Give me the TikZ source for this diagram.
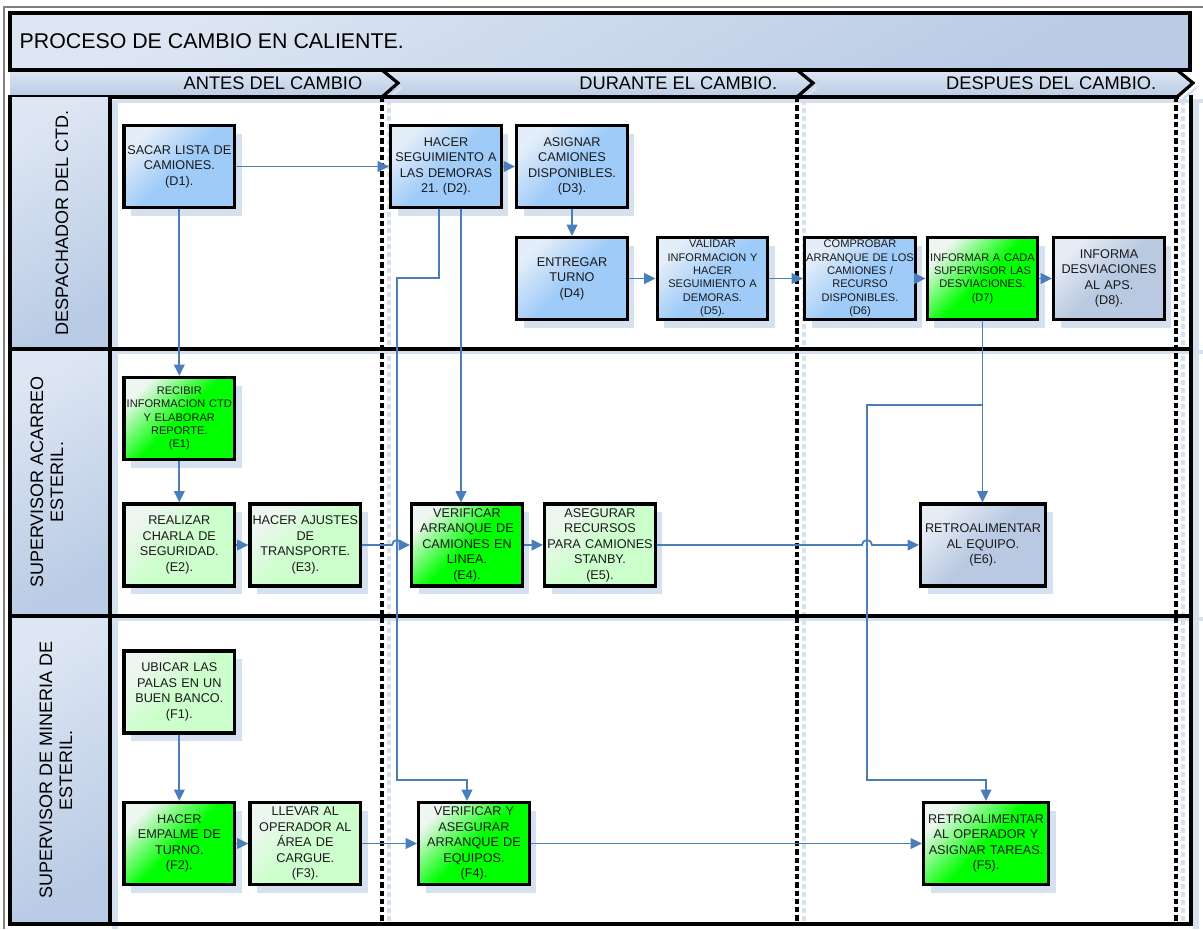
\documentclass[tikz,border=0pt]{standalone}
\usepackage{fontspec}
\setmainfont{Liberation Sans}
\usetikzlibrary{arrows.meta,shadows,calc}
\frenchspacing

\definecolor{flecha}{HTML}{4A7EBB}
\definecolor{azulcaja}{HTML}{9FCBF9}
\definecolor{azulclaro}{HTML}{E4EEF9}
\definecolor{verde}{HTML}{00FF00}
\definecolor{verdeclaro}{HTML}{CCFFCC}
\definecolor{verdeluz}{HTML}{EEF6F0}
\definecolor{grisazul}{HTML}{B9C9E1}
\definecolor{grisluz}{HTML}{E6ECF5}
\definecolor{sombra}{HTML}{D6E1F0}
\definecolor{encab}{HTML}{B9CBE5}
\definecolor{encabclaro}{HTML}{DDE6F3}

\begin{document}
\begin{tikzpicture}[x=0.75pt, y=-0.75pt,
  caja/.style={draw=black, line width=2.4pt, minimum width=83pt, minimum height=61.5pt,
    text width=81pt, align=center, inner sep=1pt, text=black!90, font=\fontsize{9.5}{11.6}\selectfont,
    drop shadow={shadow xshift=5.25pt, shadow yshift=-6pt, fill=sombra, opacity=1}},
  ancha/.style={minimum width=93.75pt, text width=91pt},
  chica/.style={font=\fontsize{8.3}{10}\selectfont},
  azul/.style={caja, top color=azulclaro, bottom color=azulcaja, middle color=azulcaja, shading angle=45},
  verdefuerte/.style={caja, top color=verdeluz, bottom color=verde, middle color=verde, shading angle=45},
  verdesuave/.style={caja, top color=verdeluz, bottom color=verdeclaro, middle color=verdeclaro, shading angle=45},
  gris/.style={caja, top color=grisluz, bottom color=grisazul, middle color=grisazul, shading angle=45},
  flechas/.style={draw=flecha, line width=1.35pt, -{Triangle[length=8.5pt,width=8pt]}},
  borde/.style={line width=2.4pt, line cap=rect},
  punteado/.style={line width=2.6pt, dash pattern=on 4pt off 2.2pt},
  guia/.style={draw=sombra, line width=2.4pt, dash pattern=on 4pt off 2pt},
  carril/.style={rotate=90, align=center, font=\fontsize{13.5}{15}\selectfont},
  fase/.style={anchor=east, font=\fontsize{13.7}{16}\selectfont}]

  \useasboundingbox (0,0) rectangle (1203,929);
  \fill[white] (0,0) rectangle (1203,929);
  \draw[gray, line width=0.8pt] (4,929) -- (4,7) -- (1203,7);

  % encabezado
  \shade[top color=encabclaro, bottom color=encab, shading angle=30] (10,13) rectangle (1190,70);
  \shade[top color=encabclaro, bottom color=encab] (10,70) -- (1177,70) -- (1194,83) -- (1177,97) -- (10,97) -- cycle;
  \foreach \c in {382,797,1177}
    \draw[sombra, line width=2pt] (\c+6,99) -- (\c+20,87);
  \draw[sombra, line width=3pt] (118,101) -- (1203,101);
  \draw[borde] (10,13) rectangle (1190,70);
  \draw[borde] (10,70) -- (1177,70) (10,97) -- (1177,97);
  \foreach \c in {382,797,1177}
    \draw[line width=2.4pt] (\c,70) -- (\c+16,83) -- (\c,97);
  \node[anchor=west, font=\fontsize{16}{18}\selectfont] (titulo) at (15,41) {PROCESO DE CAMBIO EN CALIENTE.};
  \node[fase] (antes) at (367,83) {ANTES DEL CAMBIO};
  \node[fase] (durante) at (782,83) {DURANTE EL CAMBIO.};
  \node[fase] (despues) at (1161,83) {DESPUES DEL CAMBIO.};

  % carriles
  \shade[top color=encabclaro, bottom color=encab, shading angle=30] (10,97) rectangle (110,349);
  \shade[top color=encabclaro, bottom color=encab, shading angle=30] (10,349) rectangle (110,616);
  \shade[top color=encabclaro, bottom color=encab, shading angle=30] (10,616) rectangle (110,924);
  \fill[sombra] (112,100) rectangle (118,929);
  \fill[sombra] (1193,100) rectangle (1199,929);
  \draw[sombra, line width=3pt] (113,352) -- (1203,352) (113,619) -- (1203,619);
  \foreach \x in {382,797,1176} {
    \draw[guia] (\x+7,100) -- (\x+7,924);
    \draw[punteado] (\x,97) -- (\x,924);
  }
  \draw[borde] (10,97) -- (10,924) -- (1191,924) -- (1191,97);
  \draw[borde] (110,97) -- (110,924);
  \draw[borde] (10,349) -- (1191,349) (10,616) -- (1191,616);
  \node[carril] (L1) at (62,223) {DESPACHADOR DEL CTD.};
  \node[carril] (L2) at (47,482) {SUPERVISOR ACARREO\\ESTERIL.};
  \node[carril] (L3) at (56,770) {SUPERVISOR DE MINERIA DE\\ESTERIL.};

  % actividades
  \node[azul] (D1) at (179.3,166.5) {SACAR LISTA DE\\CAMIONES.\\(D1).};
  \node[azul] (D2) at (446,166.5) {HACER\\SEGUIMIENTO A\\LAS DEMORAS\\21. (D2).};
  \node[azul] (D3) at (572,166.5) {ASIGNAR\\CAMIONES\\DISPONIBLES.\\(D3).};
  \node[azul] (D4) at (572,278.5) {ENTREGAR\\TURNO\\(D4)};
  \node[azul, chica] (D5) at (712.5,278.5) {VALIDAR\\INFORMACION Y\\HACER\\SEGUIMIENTO A\\DEMORAS.\\(D5).};
  \node[azul, chica] (D6) at (860,278.5) {COMPROBAR\\ARRANQUE DE LOS\\CAMIONES /\\RECURSO\\DISPONIBLES.\\(D6)};
  \node[verdefuerte, chica] (D7) at (982.5,278.5) {INFORMAR A CADA\\SUPERVISOR LAS\\DESVIACIONES.\\(D7)};
  \node[gris] (D8) at (1109,278.5) {INFORMA\\DESVIACIONES\\AL APS.\\(D8).};

  \node[verdefuerte, chica] (E1) at (179.3,418.5) {RECIBIR\\INFORMACION CTD\\Y ELABORAR\\REPORTE.\\(E1)};
  \node[verdesuave] (E2) at (179.3,545) {REALIZAR\\CHARLA DE\\SEGURIDAD.\\(E2).};
  \node[verdesuave] (E3) at (305.3,545) {HACER AJUSTES\\DE\\TRANSPORTE.\\(E3).};
  \node[verdefuerte] (E4) at (467,545) {VERIFICAR\\ARRANQUE DE\\CAMIONES EN\\LINEA.\\(E4).};
  \node[verdesuave] (E5) at (600,545) {ASEGURAR\\RECURSOS\\PARA CAMIONES\\STANBY.\\(E5).};
  \node[gris, ancha] (E6) at (983,545) {RETROALIMENTAR\\AL EQUIPO.\\(E6).};

  \node[verdesuave] (F1) at (179.3,692) {UBICAR LAS\\PALAS EN UN\\BUEN BANCO.\\(F1).};
  \node[verdefuerte] (F2) at (179.3,843.5) {HACER\\EMPALME DE\\TURNO.\\(F2).};
  \node[verdesuave] (F3) at (305.3,843.5) {LLEVAR AL\\OPERADOR AL\\ÁREA DE\\CARGUE.\\(F3).};
  \node[verdefuerte] (F4) at (474,843.5) {VERIFICAR Y\\ASEGURAR\\ARRANQUE DE\\EQUIPOS.\\(F4).};
  \node[verdefuerte, ancha] (F5) at (986,843.5) {RETROALIMENTAR\\AL OPERADOR Y\\ASIGNAR TAREAS.\\(F5).};

  % puntos de quiebre
  \coordinate (j1) at (397,278);
  \coordinate (j2) at (397,780);
  \coordinate (k1) at (867,405);
  \coordinate (k2) at (867,780);
  \coordinate (d2a) at ($(D2.south)+(-7,0)$);
  \coordinate (d2b) at ($(D2.south)+(15,0)$);

  % flujo
  \draw[flechas] (D1) -- (D2);
  \draw[flechas] (D2) -- (D3);
  \draw[flechas] (D3) -- (D4);
  \draw[flechas] (D4) -- (D5);
  \draw[flechas] (D5) -- (D6);
  \draw[flechas] (D6) -- (D7);
  \draw[flechas] (D7) -- (D8);
  \draw[flechas] (D1) -- (E1);
  \draw[flechas] (E1) -- (E2);
  \draw[flechas] (E2) -- (E3);
  \draw[flechas] (E3.east) -- ($(j2 |- E3.east)+(-5,0)$) arc[start angle=180, end angle=360, radius=5] -- (E4.west);
  \draw[flechas] (E4) -- (E5);
  \draw[flechas] (E5.east) -- ($(k2 |- E5.east)+(-5,0)$) arc[start angle=180, end angle=360, radius=5] -- (E6.west);
  \draw[flechas] (F1) -- (F2);
  \draw[flechas] (F2) -- (F3);
  \draw[flechas] (F3) -- (F4);
  \draw[flechas] (F4) -- (F5);
  \draw[flechas] (d2a) |- (j1) -- (j2) -| ($(F4.north)+(-7,0)$);
  \draw[flechas] (d2b) -- (d2b |- E4.north);
  \draw[flechas] (D7.south) -- (D7.south |- E6.north);
  \draw[flechas] (D7.south |- k1) -- (k1) -- (k2) -| (F5.north);
\end{tikzpicture}
\end{document}
